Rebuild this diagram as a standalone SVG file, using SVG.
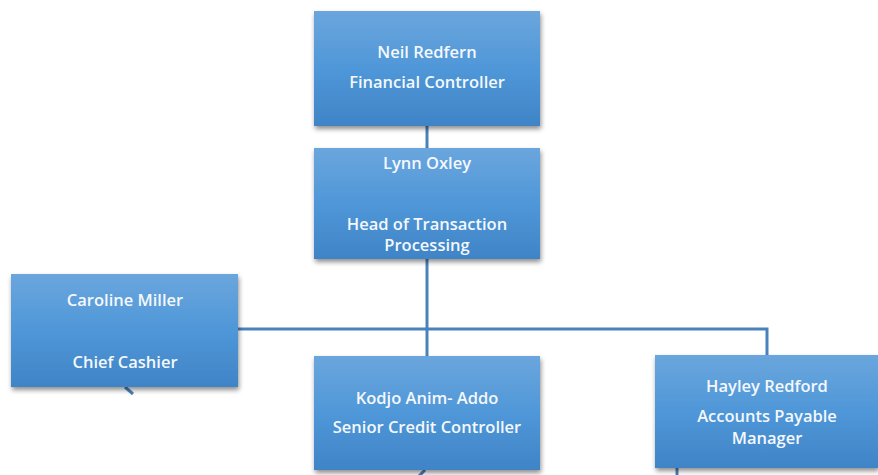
<svg xmlns="http://www.w3.org/2000/svg" width="878" height="475" viewBox="0 0 878 475">
<defs>
<linearGradient id="g" x1="0" y1="0" x2="0" y2="1">
<stop offset="0" stop-color="#6ba6dd"/>
<stop offset="0.5" stop-color="#4f97d8"/>
<stop offset="1" stop-color="#3f84c6"/>
</linearGradient>
<filter id="sh" x="-10%" y="-10%" width="125%" height="130%">
<feGaussianBlur in="SourceAlpha" stdDeviation="2.5"/>
<feOffset dx="1" dy="3" result="b"/>
<feComponentTransfer><feFuncA type="linear" slope="0.45"/></feComponentTransfer>
<feMerge><feMergeNode/><feMergeNode in="SourceGraphic"/></feMerge>
</filter>
</defs>
<style>
.box{fill:url(#g);filter:url(#sh)}
.t{font-family:"Open Sans","Liberation Sans",Arial,sans-serif;font-size:16.5px;font-weight:600;fill:#f4f8fc;text-anchor:middle}
.c{stroke:#4a82bb;stroke-width:3;fill:none}
</style>
<rect width="878" height="475" fill="#ffffff"/>
<g id="connectors">
<line class="c" x1="427" y1="126" x2="427" y2="148"/>
<line class="c" x1="427" y1="259" x2="427" y2="356"/>
<polyline class="c" points="238,329 767,329 767,355"/>
<line class="c" x1="125" y1="387" x2="133" y2="394"/>
<line class="c" x1="425" y1="470" x2="419" y2="476"/>
<line class="c" x1="677" y1="468" x2="677" y2="476"/>
</g>
<g id="n1"><rect class="box" x="314" y="11" width="226" height="115"/>
<text class="t" x="427" y="58">Neil Redfern</text>
<text class="t" x="427" y="88">Financial Controller</text></g>
<g id="n2"><rect class="box" x="314" y="148" width="226" height="111"/>
<text class="t" x="427" y="169">Lynn Oxley</text>
<text class="t" x="427" y="230">Head of Transaction</text>
<text class="t" x="427" y="251">Processing</text></g>
<g id="n3"><rect class="box" x="11" y="274" width="227" height="113"/>
<text class="t" x="125" y="306">Caroline Miller</text>
<text class="t" x="125" y="368">Chief Cashier</text></g>
<g id="n4"><rect class="box" x="314" y="356" width="226" height="114"/>
<text class="t" x="427" y="404">Kodjo Anim- Addo</text>
<text class="t" x="427" y="433">Senior Credit Controller</text></g>
<g id="n5"><rect class="box" x="655" y="355" width="223" height="113"/>
<text class="t" x="767" y="392">Hayley Redford</text>
<text class="t" x="767" y="422">Accounts Payable</text>
<text class="t" x="767" y="444">Manager</text></g>
</svg>
